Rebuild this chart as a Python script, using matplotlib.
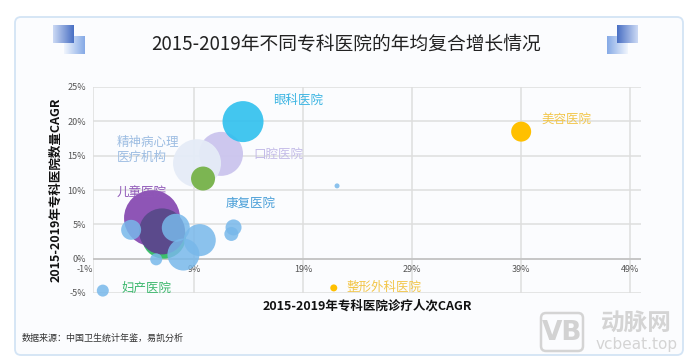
"""
2015-2019年不同专科医院的年均复合增长情况（气泡图）
"""

import numpy as np
import matplotlib.pyplot as plt
from matplotlib.patches import FancyBboxPatch
from matplotlib.transforms import offset_copy

plt.rcParams['font.family'] = ['Noto Sans CJK SC', 'DejaVu Sans']

# ---- 数据 ----
# 诊疗人次CAGR(%)、医院数量CAGR(%)、气泡大小（相对值）
visit_cagr = [11.45, 13.47, 9.25, 9.8, 6.2, 5.12, 6.04,
              3.2, 7.3, 9.5, 8.0, 5.5, 12.6, 12.4, 22.1, 0.6,
              39.0, 21.8]
count_cagr = [15.26, 19.96, 13.9, 11.67, 3.2, 5.9, 3.97,
              4.2, 4.5, 2.7, 0.6, -0.1, 4.55, 3.6, 10.6, -4.65,
              18.5, -4.26]
bubble_val = [22, 20.5, 24, 12, 22, 28, 23,
              10, 14, 16, 16, 6, 8, 7, 2.5, 6,
              10, 3.5]
bubble_color = ['#cbc5ee', '#2fc0ee', '#e5ecf7', '#7cb552', '#3dbe6c', '#8e55b6', '#5b4a8c',
                '#78b8ea', '#78b8ea', '#78b8ea', '#78b8ea', '#78b8ea', '#78b8ea', '#78b8ea',
                '#78b8ea', '#78b8ea',
                '#ffc000', '#ffc000']
bubble_alpha = [0.95, 0.9, 0.95, 1, 1, 1, 1,
                0.85, 0.85, 0.85, 0.85, 0.85, 0.85, 0.85, 0.85, 0.85,
                1, 1]

x_ticks = [-0.3, 9, 19, 29, 39, 49]
x_ticklabels = ['-1%', '9%', '19%', '29%', '39%', '49%']
y_ticks = [-5, 0, 5, 10, 15, 20, 25]
y_ticklabels = ['-5%', '0%', '5%', '10%', '15%', '20%', '25%']

# 标签: 文本, x, y, 颜色
labels = [
    ('眼科医院', 16.2, 23.0, '#3ab4e2'),
    ('精神病心理\n医疗机构', 1.9, 15.8, '#9dbde2'),
    ('口腔医院', 14.4, 15.2, '#c4bce8'),
    ('儿童医院', 1.9, 9.5, '#9058b8'),
    ('康复医院', 11.9, 8.05, '#4a9fd8'),
    ('美容医院', 40.9, 20.3, '#f2c64a'),
    ('整形外科医院', 23.0, -4.2, '#f2c64a'),
    ('妇产医院', 2.3, -4.3, '#3db86e'),
]

fig = plt.figure(figsize=(6.93, 3.62), dpi=100)

# ---- 背景与装饰 ----
bg = fig.add_axes([0, 0, 1, 1], zorder=0)
bg.set_xlim(0, 693)
bg.set_ylim(362, 0)
bg.axis('off')

bg.add_patch(FancyBboxPatch((15, 17), 668, 338, boxstyle='round,pad=0,rounding_size=6',
                            fc='#fbfcfe', ec='#d3e4f5', lw=1.3))


def grad_box(x0, y0, w, h, c_left, c_right):
    c1 = np.array(plt.matplotlib.colors.to_rgb(c_left))
    c2 = np.array(plt.matplotlib.colors.to_rgb(c_right))
    t = np.linspace(0, 1, 40)[None, :, None]
    img = c1 + (c2 - c1) * t
    img = np.repeat(img, 2, axis=0)
    bg.imshow(img, extent=(x0, x0 + w, y0 + h, y0), aspect='auto', zorder=2)


grad_box(64, 36, 21, 18, '#f0f5fd', '#86aae6')
grad_box(53, 25, 21, 18, '#cbd9f4', '#4a70c4')
grad_box(607, 36, 21, 18, '#86aae6', '#f0f5fd')
grad_box(617, 25, 21, 18, '#4a70c4', '#cbd9f4')
bg.set_xlim(0, 693)
bg.set_ylim(362, 0)

bg.text(346, 45, '2015-2019年不同专科医院的年均复合增长情况', ha='center', va='center',
        fontsize=13.5, color='#222222')
bg.text(22, 338, '数据来源：中国卫生统计年鉴，易凯分析', ha='left', va='center',
        fontsize=6.5, color='#333333')

# 水印
bg.add_patch(FancyBboxPatch((541, 313), 42, 38, boxstyle='round,pad=0,rounding_size=5',
                            fc='none', ec='#d4d4d4', lw=1.8))
bg.text(562, 333, 'VB', ha='center', va='center', fontsize=19, fontweight='bold',
        color='#d2d2d2', family='DejaVu Sans')
bg.text(636, 323, '动脉网', ha='center', va='center', fontsize=17, fontweight='bold',
        color='#d4d4d4')
bg.text(637, 345, 'vcbeat.top', ha='center', va='center', fontsize=11,
        color='#d4d4d4', family='DejaVu Sans')

# ---- 主图 ----
ax = fig.add_axes([93 / 693, 1 - 293 / 362, (641 - 93) / 693, (293 - 87) / 362], zorder=1)
ax.set_facecolor('none')
ax.set_xlim(-0.3, 50)
ax.set_ylim(-5, 25)

for xv in x_ticks:
    ax.axvline(xv, color='#dedede', lw=1.1, zorder=0)
for yv in y_ticks:
    ax.axhline(yv, color='#dedede', lw=1.1, zorder=0)
ax.axhline(0, color='#c4c4c4', lw=1.3, zorder=0)

for sp in ax.spines.values():
    sp.set_visible(False)

ax.set_xticks([])
ax.set_yticks(y_ticks)
ax.set_yticklabels(y_ticklabels, fontsize=6.5, color='#555555')
ax.tick_params(axis='y', length=0, pad=5)

# x轴刻度标签位于0%线下方
tr = offset_copy(ax.transData, fig=fig, x=0, y=-7.5, units='points')
for i, (xv, lab) in enumerate(zip(x_ticks, x_ticklabels)):
    ax.text(xv, 0, lab, transform=tr, ha='right' if i == 0 else 'center', va='center',
            fontsize=6.5, color='#555555')

sizes = [(2 * v * 0.72) ** 2 for v in bubble_val]
for xv, yv, s, c, a in zip(visit_cagr, count_cagr, sizes, bubble_color, bubble_alpha):
    ax.scatter(xv, yv, s=s, color=c, alpha=a, edgecolors='none', zorder=3, clip_on=False)

for txt, xv, yv, c in labels:
    ax.text(xv, yv, txt, color=c, fontsize=9, ha='left', va='center', zorder=5,
            linespacing=1.25)

ax.set_xlabel('2015-2019年专科医院诊疗人次CAGR', fontsize=9, fontweight='bold',
              color='#111111', labelpad=5)
ax.set_ylabel('2015-2019年专科医院数量CAGR', fontsize=9, fontweight='bold',
              color='#111111', labelpad=4)

fig.savefig('out.png', dpi=100)
